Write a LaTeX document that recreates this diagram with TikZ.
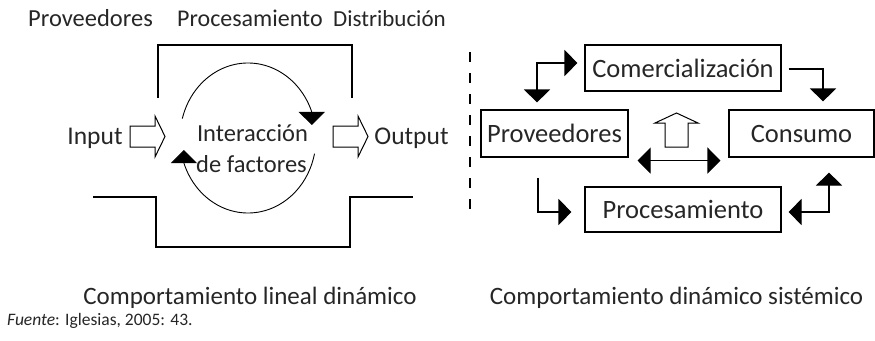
\documentclass[tikz,border=0pt]{standalone}
\usepackage{fontspec}
\setmainfont{Carlito}
\usetikzlibrary{arrows.meta}
\newcommand\fsz[1]{\fontsize{#1}{#1}\selectfont}
\begin{document}
\begin{tikzpicture}[x=1pt,y=-1pt,
  >={Triangle[length=13pt,width=26pt]},
  ln/.style={line width=1.1pt, black},
  arcln/.style={line width=0.9pt, black},
  box/.style={draw, line width=1.1pt, inner sep=0pt, text height=18pt, text depth=0pt, font=\fsz{26.5}, text=black!85},
  lbl/.style={anchor=base, inner sep=0pt, font=\fsz{24.5}, text=black!85},
  conn/.style={line width=1.1pt},
  hollow/.style={draw, line width=1pt, fill=white}]
\useasboundingbox (0,0) rectangle (875,340);

% ---------- left diagram ----------
\node[lbl, anchor=base west, font=\fsz{24.5}] (tprov) at (28,26) {Proveedores};
\node[lbl, anchor=base west, font=\fsz{24}] (tproc) at (177,26) {Procesamiento};
\node[lbl, anchor=base west, font=\fsz{23}] (tdist) at (333,26) {Distribución};

\draw[ln] (158,98) -- (158,45) -- (352,45) -- (352,98);
\draw[ln] (93,197) -- (156,197) -- (156,247) -- (350,247) -- (350,197) -- (413,197);

\node[lbl, font=\fsz{25.5}] (input) at (95,144) {Input};
\node[lbl, font=\fsz{25.5}] (output) at (411.5,144) {Output};
\node[lbl] (inter1) at (252.5,141) {Interacción};
\node[lbl] (inter2) at (251.5,172) {de factores};

% hollow arrows
\draw[hollow] (130,126) -- (155,126) -- (155,116) -- (165,136.5) -- (155,157) -- (155,147) -- (130,147) -- cycle;
\draw[hollow] (333,126) -- (358,126) -- (358,116) -- (368,136.5) -- (358,157) -- (358,147) -- (333,147) -- cycle;

% interaction cycle
\draw[arcln, ->] plot[domain=0:144.7, samples=90] ({248+68*cos(165-\x)},{138-75*sin(165-\x)}) -- ++(0,13);
\draw[arcln, ->] plot[domain=0:148.5, samples=90] ({248+68*cos(-12-\x)},{138-75*sin(-12-\x)}) -- ++(0,-13);

% dashed separator
\draw[line width=1.1pt, dash pattern=on 10pt off 11pt] (470,52) -- (470,214);

% ---------- right diagram ----------
\node[box, minimum width=196pt, minimum height=46pt] (com) at (683,68) {Comercialización};
\node[box, minimum width=147pt, minimum height=47pt] (prov) at (554.5,133.5) {Proveedores};
\node[box, minimum width=145pt, minimum height=47pt] (cons) at (801.5,133.5) {Consumo};
\node[box, minimum width=196pt, minimum height=45pt] (proc) at (683,209.5) {Procesamiento};

\draw[conn, <->, shorten <=7pt, shorten >=7pt] ([xshift=-17.5pt]prov.north) |- ([yshift=5pt]com.west);
\draw[conn, ->, shorten >=8pt] ([xshift=7pt,yshift=-1pt]com.east) -| ([xshift=21.5pt]cons.north);
\draw[conn, ->, shorten <=20pt, shorten >=13pt] ([xshift=-16.5pt]prov.south) |- ([yshift=-2.5pt]proc.west);
\draw[conn, <->, shorten <=7pt, shorten >=15pt] ([yshift=-2.5pt]proc.east) -| ([xshift=27.5pt]cons.south);
\draw[conn, <->] ([xshift=9pt,yshift=-3pt]prov.south east) -- ([xshift=-8pt,yshift=-3pt]cons.south west);

\draw[hollow] (665,147) -- (665,123) -- (655,123) -- (676.5,113) -- (698,123) -- (688,123) -- (688,147) -- cycle;

% ---------- captions ----------
\node[lbl, font=\fsz{25}] (cap1) at (250,304) {Comportamiento lineal dinámico};
\node[lbl, font=\fsz{25}] (cap2) at (676.5,304) {Comportamiento dinámico sistémico};
\node[lbl, anchor=base west, font=\fsz{17.5}] (src) at (7,325) {\textit{Fuente}: Iglesias, 2005: 43.};
\end{tikzpicture}
\end{document}
